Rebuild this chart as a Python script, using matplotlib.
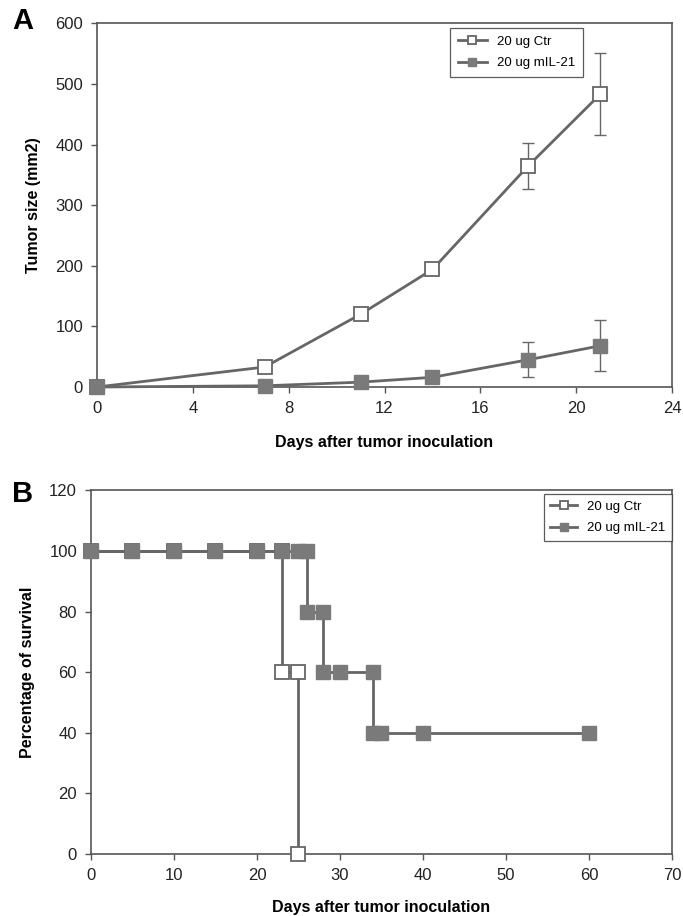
import matplotlib
matplotlib.use("Agg")
import matplotlib.pyplot as plt

plt.rcParams['font.family'] = ['Liberation Sans', 'DejaVu Sans']

# Panel A: tumor growth
daysA = [0, 7, 11, 14, 18, 21]
ctrSize = [0, 33, 120, 194, 365, 483]
ctrErr = [0, 0, 0, 0, 38, 68]
ilSize = [0, 2, 8, 16, 45, 68]
ilErr = [0, 0, 0, 0, 29, 42]

# Panel B: survival (step points)
ctrDays = [0, 5, 10, 15, 20, 23, 23, 25, 25]
ctrSurv = [100, 100, 100, 100, 100, 100, 60, 60, 0]
ilDays = [0, 5, 10, 15, 20, 23, 25, 26, 26, 28, 28, 30, 34, 34, 35, 40, 60]
ilSurv = [100, 100, 100, 100, 100, 100, 100, 100, 80, 80, 60, 60, 60, 40, 40, 40, 40]

lineCol = '#666666'
fillCol = '#7a7a7a'
spineCol = '#555555'

fig = plt.figure(figsize=(6.83, 9.16), dpi=100)
axA = fig.add_axes([0.142, 0.5775, 0.842, 0.397])
axB = fig.add_axes([0.1332, 0.0677, 0.8507, 0.397])

def styleAxes(ax):
    for s in ax.spines.values():
        s.set_color(spineCol)
        s.set_linewidth(1.2)
    ax.tick_params(direction='out', length=4, width=1, color=spineCol,
                   labelsize=12, labelcolor='#222222', pad=6)

# --- A ---
# error bars first, then lines+markers (keeps legend handles clean)
axA.errorbar(daysA, ctrSize, yerr=ctrErr, fmt='none', ecolor=lineCol,
             elinewidth=1, capsize=4, capthick=1, zorder=2)
axA.errorbar(daysA, ilSize, yerr=ilErr, fmt='none', ecolor=lineCol,
             elinewidth=1, capsize=4, capthick=1, zorder=2)
axA.plot(daysA, ctrSize, color=lineCol, lw=2, marker='s', ms=10,
         mfc='white', mec=lineCol, mew=1.3, label='20 ug Ctr', zorder=3, clip_on=False)
axA.plot(daysA, ilSize, color=lineCol, lw=2, marker='s', ms=10,
         mfc=fillCol, mec=fillCol, label='20 ug mIL-21', zorder=4, clip_on=False)
axA.set_xlim(0, 24)
axA.set_ylim(0, 600)
axA.set_xticks(range(0, 25, 4))
axA.set_yticks(range(0, 601, 100))
axA.set_xlabel('Days after tumor inoculation', fontsize=11.5, fontweight='bold', labelpad=14)
axA.set_ylabel('Tumor size (mm2)', fontsize=11.5, fontweight='bold', labelpad=10)
styleAxes(axA)
legA = axA.legend(loc='upper left', bbox_to_anchor=(0.602, 1.006), fontsize=9.5,
                  frameon=True, fancybox=False, edgecolor='#333333',
                  handlelength=2.2, markerscale=0.55, borderpad=0.6, labelspacing=0.7)
legA.get_frame().set_linewidth(0.9)
fig.text(0.018, 0.968, 'A', fontsize=21, fontweight='bold')

# --- B ---
axB.plot(ctrDays, ctrSurv, color=lineCol, lw=2, marker='s', ms=9.5,
         mfc='white', mec=lineCol, mew=1.3, label='20 ug Ctr', zorder=3, clip_on=False)
axB.plot(ilDays, ilSurv, color=lineCol, lw=2, marker='s', ms=9.5,
         mfc=fillCol, mec=fillCol, label='20 ug mIL-21', zorder=4, clip_on=False)
axB.set_xlim(0, 70)
axB.set_ylim(0, 120)
axB.set_xticks(range(0, 71, 10))
axB.set_yticks(range(0, 121, 20))
axB.set_xlabel('Days after tumor inoculation', fontsize=11.5, fontweight='bold', labelpad=12)
axB.set_ylabel('Percentage of survival', fontsize=11.5, fontweight='bold', labelpad=10)
styleAxes(axB)
legB = axB.legend(loc='upper left', bbox_to_anchor=(0.768, 1.008), fontsize=9.5,
                  frameon=True, fancybox=False, edgecolor='#333333',
                  handlelength=2.0, markerscale=0.55, borderpad=0.5, labelspacing=0.7)
legB.get_frame().set_linewidth(0.9)
fig.text(0.018, 0.452, 'B', fontsize=21, fontweight='bold')

fig.savefig('out.png', dpi=100)
